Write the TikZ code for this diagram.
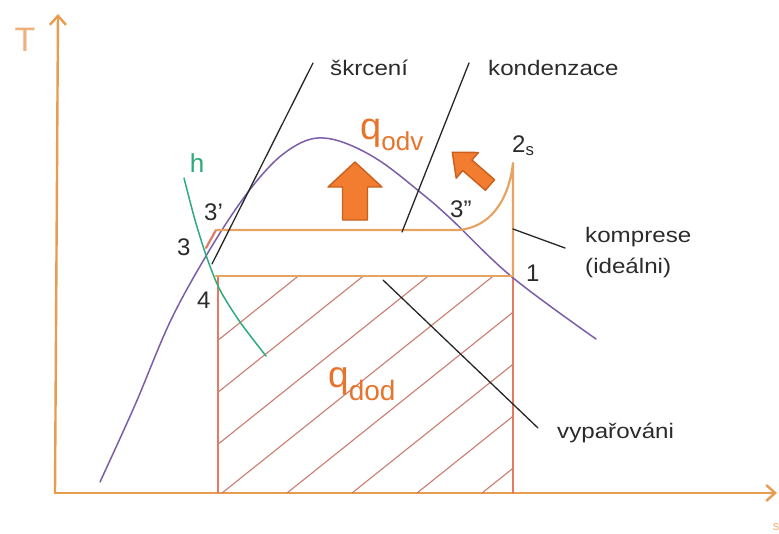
\documentclass[tikz,border=0pt]{standalone}
\usepackage{fontspec}
\setmainfont{Liberation Sans}
\usetikzlibrary{arrows.meta}
\definecolor{axisorange}{HTML}{E89C50}
\definecolor{lightorange}{HTML}{F0B07C}
\definecolor{cycorange}{HTML}{E6A462}
\definecolor{rectred}{HTML}{E27A64}
\definecolor{hatchred}{HTML}{C97A6C}
\definecolor{domepurple}{HTML}{7A5EA8}
\definecolor{hgreen}{HTML}{2FAA7A}
\definecolor{qorange}{HTML}{E8742C}
\definecolor{arrowfill}{HTML}{F27C30}
\definecolor{arrowedge}{HTML}{C8611E}
\definecolor{textgray}{HTML}{2B2B2B}

\begin{document}
\begin{tikzpicture}[x=1pt,y=-1pt,line cap=round,line join=round,
  lbl/.style={text=textgray,font=\fontsize{21}{24}\selectfont,xscale=1.15,inner sep=0pt},
  num/.style={text=textgray,font=\fontsize{24}{26}\selectfont,inner sep=0pt},
  leader/.style={draw=black!85,line width=1.3pt},
  cycleline/.style={draw=cycorange,line width=2.2pt},
  axisline/.style={draw=axisorange,line width=2.4pt,-{Straight Barb[length=9pt,width=16pt]}},
  blockarrow/.style={fill=arrowfill,draw=arrowedge,line width=1.4pt}]
  \useasboundingbox (0,0) rectangle (779,533);

  % Axes T and s.
  \coordinate (O) at (55,493);
  \coordinate (Ttip) at (58,14);
  \coordinate (stip) at (777,493);
  \draw[axisline] (O) -- (Ttip);
  \draw[axisline] (O) -- (stip);
  \node[text=lightorange,font=\fontsize{34}{36}\selectfont,inner sep=0pt] (Tlabel) at (25,40) {T};
  \node[text=lightorange,font=\fontsize{13}{14}\selectfont,inner sep=0pt] (slabel) at (776,527) {s};

  % Hatched area under the evaporation line.
  \begin{scope}
   \clip (218,276) rectangle (513,493);
   \foreach \k in {-3,...,4}
    \draw[draw=hatchred,line width=1.1pt] ({222+65*\k},493) -- ++(300,-240);
  \end{scope}
  \draw[draw=rectred,line width=1.6pt] (218,493) -- (218,276);
  \draw[draw=rectred,line width=1.6pt] (513,493) -- (513,276);

  % Cycle points.
  \coordinate (c3) at (206,248);
  \coordinate (c3a) at (216,230);
  \coordinate (c3b) at (458,230);
  \coordinate (c2s) at (513,163);
  \coordinate (c1) at (513,276);
  \coordinate (c4) at (216,276);

  % Saturation dome.
  \draw[draw=domepurple,line width=1.5pt] plot[smooth,tension=0.6] coordinates {
   (100,482) (135,405) (170,322) (206,256) (240,203) (270,166) (295,146)
   (318,138) (345,143) (380,161) (420,192) (450,218) (512,277) (596,339)};

  % Cycle: condensation, compression, evaporation.
  \draw[draw=rectred,line width=2.2pt] (c3) -- (c3a);
  \draw[cycleline] (c3a) -- (c3b) .. controls (490,228) and (509,200) .. (c2s) -- (c1);
  \draw[cycleline] (c4) -- (c1);

  % Isenthalp h.
  \draw[draw=hgreen,line width=1.5pt] plot[smooth] coordinates {
   (184,178) (195,220) (207,258) (220,290) (240,322) (266,356)};
  \node[text=hgreen,font=\fontsize{26}{28}\selectfont,inner sep=0pt] (hlabel) at (197,163) {h};

  % Heat arrows.
  \begin{scope}[shift={(355,220)}]
   \filldraw[blockarrow] (-12.5,0) -- (-12.5,-33) -- (-27,-33) -- (0,-58)
    -- (27,-33) -- (12.5,-33) -- (12.5,0) -- cycle;
  \end{scope}
  \begin{scope}[shift={(490,185)},rotate=49]
   \filldraw[blockarrow] (-7,0) -- (-7,-30) -- (-17,-30) -- (0,-50)
    -- (17,-30) -- (7,-30) -- (7,0) -- cycle;
  \end{scope}

  % Heat labels.
  \node[anchor=base west,text=qorange,inner sep=0pt] (qodv) at (360,139)
   {\fontsize{38}{40}\selectfont q\fontsize{26}{28}\selectfont\raisebox{-11pt}{odv}};
  \node[anchor=base west,text=qorange,inner sep=0pt] (qdod) at (328,387)
   {\fontsize{37}{40}\selectfont q\fontsize{28}{30}\selectfont\raisebox{-13pt}{dod}};

  % Point labels.
  \node[num,anchor=base west] (n3a) at (204,220) {3'};
  \node[num,anchor=base west] (n3) at (177,255) {3};
  \node[num,anchor=base west] (n4) at (197,308) {4};
  \node[num,anchor=base west] (n1) at (526,281) {1};
  \node[num,anchor=base west] (n3b) at (450,217) {3''};
  \node[num,anchor=base west] (n2s) at (512,152) {2\textsubscript{s}};

  % Process labels with their leaders.
  \coordinate (skrA) at (212,264);
  \coordinate (skrB) at (313,63);
  \coordinate (konA) at (402,232);
  \coordinate (konB) at (469,63);
  \coordinate (komA) at (513,229);
  \coordinate (komB) at (565,248);
  \coordinate (vypA) at (383,280);
  \coordinate (vypB) at (538,428);
  \draw[leader] (skrA) -- (skrB);
  \draw[leader] (konA) -- (konB);
  \draw[leader] (komA) -- (komB);
  \draw[leader] (vypA) -- (vypB);
  \node[lbl,anchor=base west] (skrceni) at (330,75) {škrcení};
  \node[lbl,anchor=base west] (kondenzace) at (488,75) {kondenzace};
  \node[lbl,anchor=base west] (komprese) at (585,242) {komprese};
  \node[lbl,anchor=base west] (idealni) at (585,273) {(ideálni)};
  \node[lbl,anchor=base west] (vyparovani) at (557,438) {vypařováni};
\end{tikzpicture}
\end{document}
